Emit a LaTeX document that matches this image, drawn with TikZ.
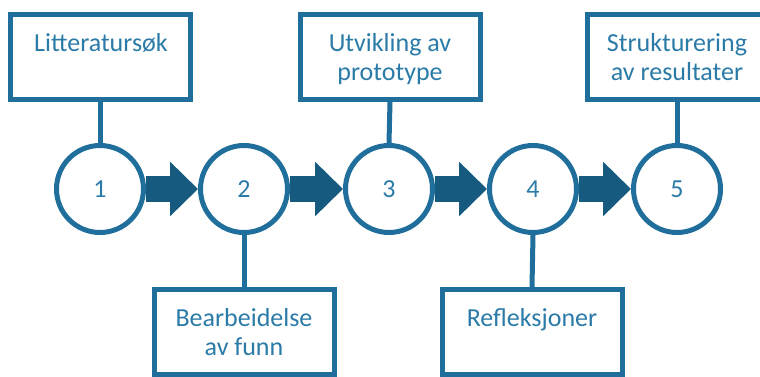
\documentclass[tikz,border=0pt]{standalone}
\usepackage{fontspec}
\setmainfont{Carlito}
\usetikzlibrary{arrows.meta,backgrounds}
\definecolor{ringblue}{HTML}{1F6E9B}
\definecolor{arrowblue}{HTML}{165A80}
\definecolor{textblue}{HTML}{2B7BA8}
\tikzset{
  stepbox/.style={draw=ringblue, line width=5pt, fill=white, rectangle, minimum width=180pt, minimum height=85pt, inner sep=0pt},
  stepcircle/.style={draw=ringblue, line width=5pt, fill=white, circle, minimum size=87pt, inner sep=0pt, text=textblue, font=\fontsize{26}{29}\selectfont},
  steptext/.style={anchor=north, inner sep=0pt, align=center, text=textblue, font=\fontsize{26}{29}\selectfont},
  link/.style={draw=ringblue, line width=5pt},
  flow/.style={draw=arrowblue, line width=26pt, -{Triangle[length=28pt,width=53pt]}, arrowblue}
}
\begin{document}
\begin{tikzpicture}[x=1pt,y=-1pt]
\useasboundingbox (0,0) rectangle (760,377);
\clip (0,0) rectangle (760,377);
% circles
\node[stepcircle] (c1) at (100,189) {1};
\node[stepcircle] (c2) at (244,189) {2};
\node[stepcircle] (c3) at (389,189) {3};
\node[stepcircle] (c4) at (533,189) {4};
\node[stepcircle] (c5) at (677,189) {5};
% boxes
\node[stepbox] (b1) at (100,57) {};
\node[stepbox] (b2) at (244,332) {};
\node[stepbox] (b3) at (390,57) {};
\node[stepbox] (b4) at (532,332) {};
\node[stepbox] (b5) at (677,57) {};
% texts
\node[steptext] (t1) at (101,33) {Litteratursøk};
\node[steptext] (t2) at (244,308) {Bearbeidelse\\av funn};
\node[steptext] (t3) at (390,33) {Utvikling av\\prototype};
\node[steptext] (t4) at (532,308) {Refleksjoner};
\node[steptext] (t5) at (677,33) {Strukturering\\av resultater};
\begin{scope}[on background layer]
\draw[link] (b1.south) -- (c1.north);
\draw[link] (b2.north) -- (c2.south);
\draw[link] (b3.south) -- (c3.north);
\draw[link] (b4.north) -- (c4.south);
\draw[link] (b5.south) -- (c5.north);
\draw[flow] (c1.east) -- (c2.west);
\draw[flow] (c2.east) -- (c3.west);
\draw[flow] (c3.east) -- (c4.west);
\draw[flow] (c4.east) -- (c5.west);
\end{scope}
\end{tikzpicture}
\end{document}
